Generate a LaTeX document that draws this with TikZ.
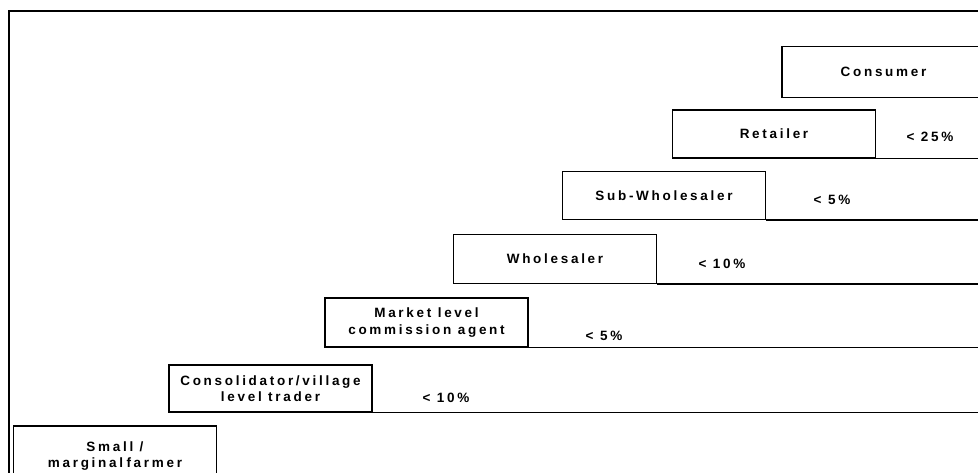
\documentclass[tikz,border=0pt]{standalone}
\usepackage{fontspec}
\setmainfont{Liberation Sans}[LetterSpace=20]
\begin{document}
\begin{tikzpicture}[x=1pt,y=-1pt,
  lbl/.style={font=\bfseries\fontsize{13.5}{16.5}\selectfont, inner sep=0pt},
  stage/.style={draw=black, line width=1.3pt, minimum width=203pt, minimum height=48pt,
    inner sep=0pt, align=center, font=\bfseries\fontsize{13.5}{16.5}\selectfont},
  shelf/.style={line width=1.3pt},
  frame/.style={line width=2pt}]
\useasboundingbox (0,0) rectangle (978,473);
\coordinate (E) at (995,0);
\coordinate (FL) at (9,480);
\coordinate (FT) at (995,11);
\draw[frame] (FL) |- (FT);
% stages
\node[stage, minimum height=51pt] (con) at (883.5,72) {Consumer};
\node[stage] (ret) at (774,134) {Retailer};
\node[stage] (sub) at (664,195.5) {Sub-Wholesaler};
\node[stage, minimum height=49pt] (who) at (555,259) {Wholesaler};
\node[stage, minimum height=49pt] (mkt) at (426.5,322.5) {Market level\\commission agent};
\node[stage, minimum height=47pt] (cns) at (270.5,388.5) {Consolidator/village\\level trader};
\node[stage, minimum height=60pt] (frm) at (115,456) {Small /\\marginal\hspace{-3pt} farmer};
% shelves
\draw[shelf] (ret.south east) -- (ret.south east -| E);
\draw[shelf] (sub.south east) -- (sub.south east -| E);
\draw[shelf] (who.south east) -- (who.south east -| E);
\draw[shelf] (mkt.south east) -- (mkt.south east -| E);
\draw[shelf] (cns.south east) -- (cns.south east -| E);
% margins
\node[lbl] (m1) at (930,137) {< 25\%};
\node[lbl] (m2) at (832,200) {< 5\%};
\node[lbl] (m3) at (722,264) {< 10\%};
\node[lbl] (m4) at (604,336) {< 5\%};
\node[lbl] (m5) at (446,398) {< 10\%};
\end{tikzpicture}
\end{document}
